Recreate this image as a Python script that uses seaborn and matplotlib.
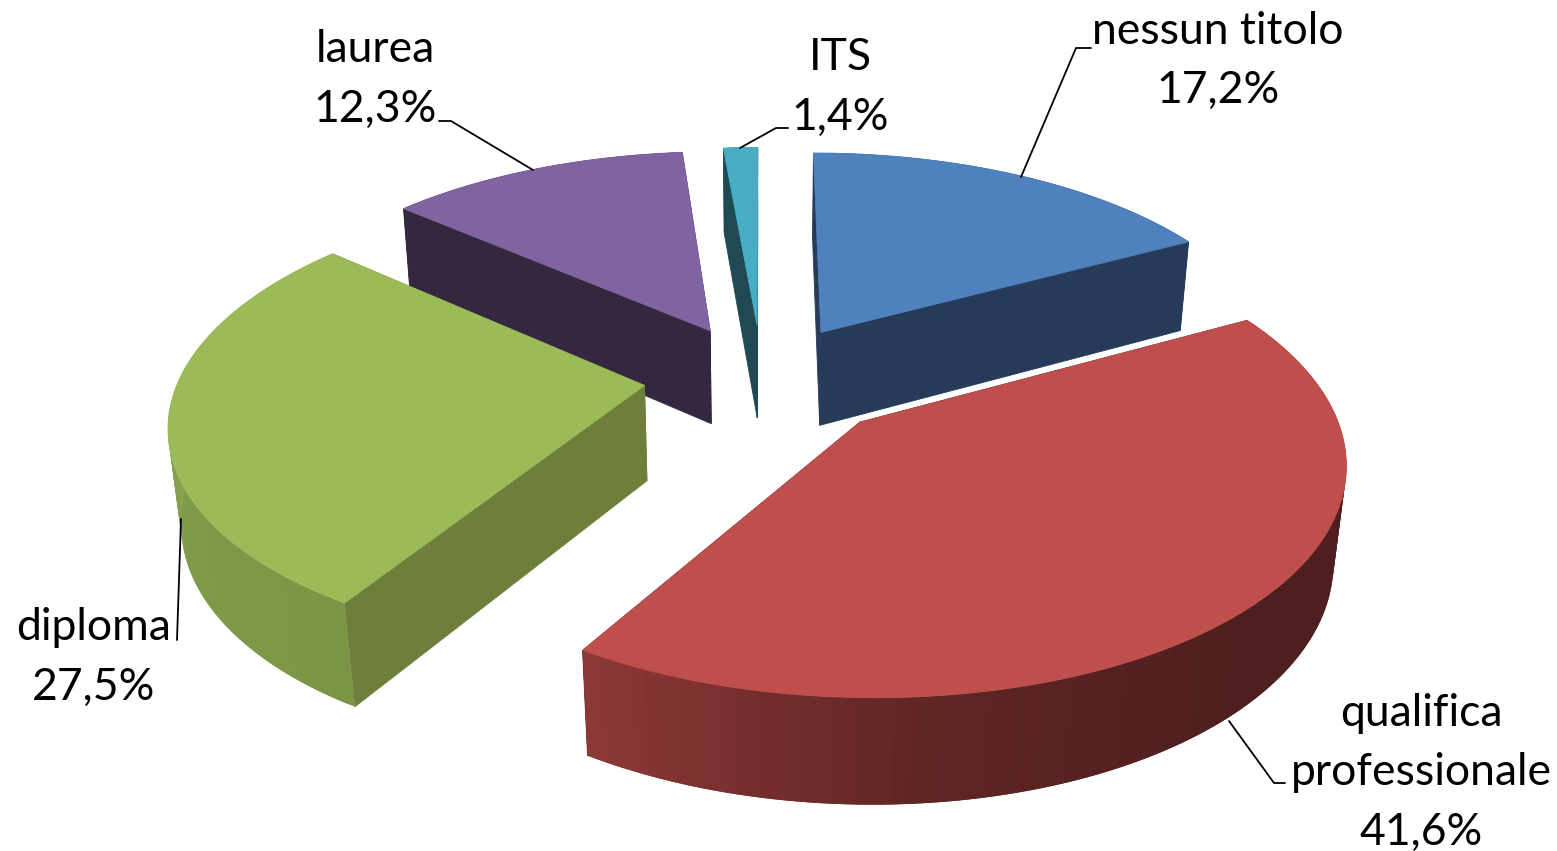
import numpy as np
import matplotlib
matplotlib.use('Agg')
import matplotlib.pyplot as plt
import seaborn as sns

# dati
etichette = [['nessun titolo'], ['qualifica', 'professionale'], ['diploma'], ['laurea'], ['ITS']]
valori = [17.2, 41.6, 27.5, 12.3, 1.4]

col_sopra = ['#4F81BD', '#BE4F4C', '#9BBB59', '#8064A2', '#4AABC5']
col_taglio = ['#263B59', '#4E1F1E', '#6D7F3B', '#33283F', '#1F4A53']
# bordo esterno: dall'inizio alla fine dell'arco
col_bordo = [['#263B59', '#263B59'],
             ['#4E1F1E', '#4E1F1E', '#4E1F1E', '#5E2523', '#8C3836'],
             ['#7C9446', '#7F9A48', '#8BA74E', '#8BA74E'],
             ['#33283F', '#33283F'],
             ['#1F4A53', '#1F4A53']]

# geometria della torta
CX, CY = 760, 378
A, B, C = 465, 219.6, 97
P, Q = 0.1525, 0.022
ESPL = 0.25
# piccolo spostamento di ogni fetta, in pixel
spost = [(3, 0), (18, 3), (0, -1), (1.5, 0), (2, 0)]

sns.set_theme(style='white')
plt.rcParams['font.family'] = ['Lato', 'DejaVu Sans']

fig, ax = plt.subplots(figsize=(15.57, 8.51), dpi=100)
ax.set_position([0, 0, 1, 1])
ax.set_xlim(0, 1557)
ax.set_ylim(851, 0)
ax.axis('off')


def proietta(x, y, z):
    w = 1 + P * y + Q * z
    return CX + A * x / w, CY - B * y / w + C * z / w


def riempi(xs, ys, colore, zo, lw=0.6):
    ax.fill(xs, ys, facecolor=colore, edgecolor=colore if lw else 'none', lw=lw, zorder=zo)


def fetta(a0, a1, i, zo):
    t = np.radians(np.linspace(a0, a1, 121))
    mid = np.radians((a0 + a1) / 2)
    dx, dy = spost[i]
    ox, oy = ESPL * np.sin(mid), ESPL * np.cos(mid)
    bx, by = ox + np.sin(t), oy + np.cos(t)

    def pr(x, y, z):
        sx, sy = proietta(x, y, z)
        return sx + dx, sy + dy

    # facce di taglio
    for k in (0, -1):
        p = [pr(ox, oy, 0), pr(bx[k], by[k], 0), pr(bx[k], by[k], 1), pr(ox, oy, 1)]
        riempi([q[0] for q in p], [q[1] for q in p], col_taglio[i], zo)

    # bordo esterno a strisce, ognuna copre un po' la successiva
    sfum = sns.blend_palette(col_bordo[i], len(t) - 1)
    for j in range(len(t) - 1):
        e = min(j + 2, len(t) - 1)
        p = [pr(bx[j], by[j], 0), pr(bx[e], by[e], 0), pr(bx[e], by[e], 1), pr(bx[j], by[j], 1)]
        riempi([q[0] for q in p], [q[1] for q in p], sfum[j], zo, lw=0)

    # faccia superiore
    sx, sy = pr(np.r_[ox, bx], np.r_[oy, by], 0)
    riempi(sx, sy, col_sopra[i], zo + 0.5)


ordine = [4, 3, 0, 2, 1]
bordi = np.r_[0, np.cumsum(valori)] / np.sum(valori) * 360
for n, i in enumerate(ordine):
    fetta(bordi[i], bordi[i + 1], i, 2 + n)

# etichette
pos_testo = [(1218, 31), (1421, 713), (94, 628), (375, 50), (840, 58)]
for i, lab in enumerate(etichette):
    righe = lab + [f'{valori[i]:.1f}'.replace('.', ',') + '%']
    x, y = pos_testo[i]
    for r, riga in enumerate(righe):
        ax.text(x, y + r * 59.5, riga, fontsize=32, color='black',
                ha='center', va='center', zorder=20)

# linee guida
guide = [[(1091, 48), (1076, 48), (1021, 177)],
         [(1285, 783), (1274, 783), (1229, 721)],
         [(177, 640), (181, 519)],
         [(439, 121), (451, 121), (533, 170)],
         [(788, 128), (776, 128), (740, 148)]]
for g in guide:
    ax.plot([q[0] for q in g], [q[1] for q in g], color='black', lw=1.3, zorder=19)

fig.savefig('out.png', dpi=100)
